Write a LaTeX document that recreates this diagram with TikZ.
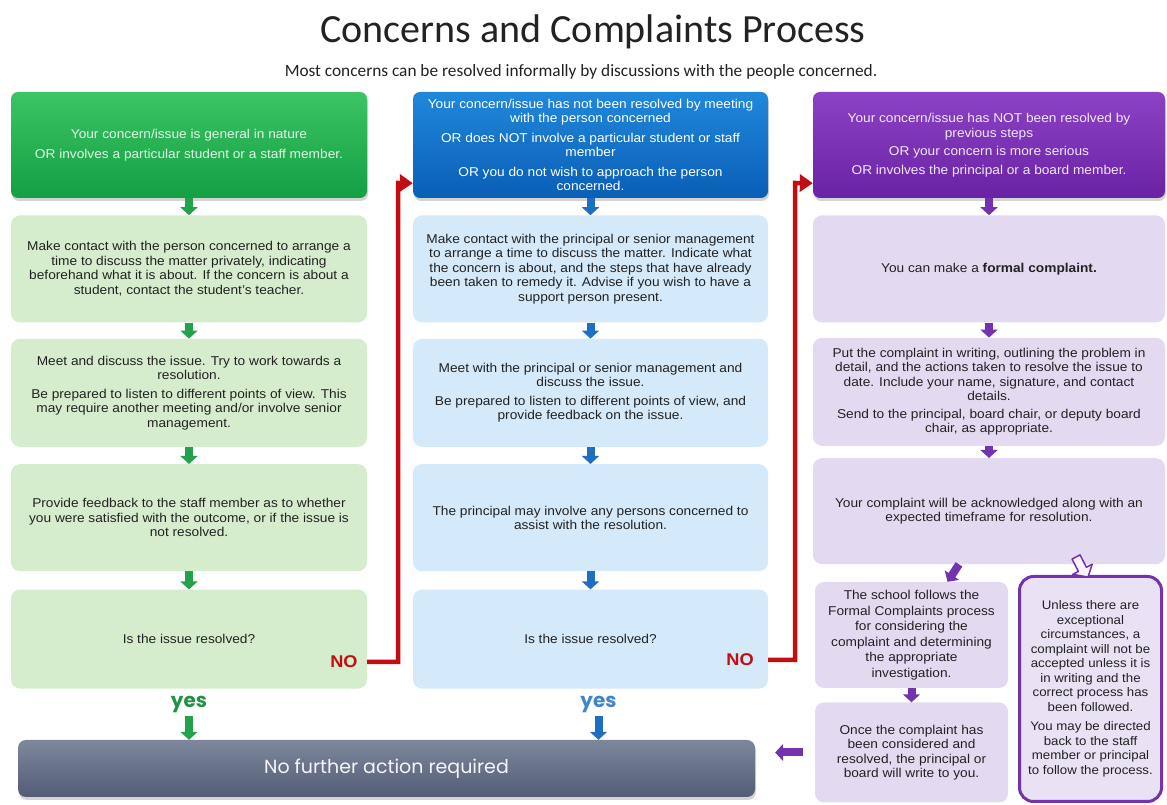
\documentclass[tikz,border=0pt]{standalone}
\usepackage{fontspec}
\setmainfont{Liberation Sans}[FakeStretch=1.07]
\newfontfamily\tittelfont{Carlito}
\newfontfamily\rundfont{Poppins}
\usepackage{tikz}
\usetikzlibrary{arrows.meta,positioning,shadows}
\definecolor{gronnA}{HTML}{3CC465}
\definecolor{gronnB}{HTML}{139F43}
\definecolor{gronnlys}{HTML}{D5EDCC}
\definecolor{gronnpil}{HTML}{23A24D}
\definecolor{blaA}{HTML}{2088DA}
\definecolor{blaB}{HTML}{0A5EB6}
\definecolor{blalys}{HTML}{D4E9F9}
\definecolor{blapil}{HTML}{1D6FC4}
\definecolor{lillaA}{HTML}{8C42C4}
\definecolor{lillaB}{HTML}{6A22A5}
\definecolor{lillalys}{HTML}{E3DAF1}
\definecolor{lillapil}{HTML}{7433AE}
\definecolor{graA}{HTML}{7D879C}
\definecolor{graB}{HTML}{525D76}
\definecolor{rod}{HTML}{C40D12}
\definecolor{tekst}{HTML}{222222}
\tikzset{
  %Define standard arrow tip
  >={Triangle[length=8pt,width=17pt]},
  %Define style for the header boxes
  hode/.style={
    rectangle,
    rounded corners=7pt,
    minimum height=106pt,
    align=center,
    font=\fontsize{12.8}{14.5}\selectfont,
    drop shadow={opacity=0.35,shadow xshift=1pt,shadow yshift=-3pt}},
  %Define style for the step boxes
  steg/.style={
    rectangle,
    rounded corners=9pt,
    align=center,
    text=tekst,
    font=\fontsize{12.8}{14.5}\selectfont},
  gsteg/.style={steg, fill=gronnlys, minimum width=356pt},
  bsteg/.style={steg, fill=blalys, minimum width=355pt},
  lsteg/.style={steg, fill=lillalys, minimum width=352pt},
  %Define style for the labels
  nei/.style={text=rod, font=\bfseries\fontsize{17}{17}\selectfont},
  ja/.style={inner sep=0pt, font=\rundfont\bfseries\fontsize{20}{20}\selectfont},
  % Define arrow styles
  nedpil/.style={
    ->,
    line width=8pt},
  neipil/.style={
    draw=rod,
    line width=4.5pt,
    -{Triangle[length=13pt,width=17pt]}}
}

\begin{document}
\begin{tikzpicture}[x=1pt,y=1pt]
  \useasboundingbox (0,0) rectangle (1167,805);
  \node[font=\tittelfont\fontsize{40}{44}\selectfont, text=tekst] (tittel) at (593,773) {Concerns and Complaints Process};
  \node[font=\tittelfont\fontsize{17.3}{19}\selectfont, text=tekst] (undertittel) at (581,733) {Most concerns can be resolved informally by discussions with the people concerned.};
  % first column
  \node[hode, minimum width=356pt, top color=gronnA, bottom color=gronnB, text=white!85!gronnA] (g1) at (189,660)
    {Your concern/issue is general in nature\\[6pt] OR involves a particular student or a staff member.};
  \node[gsteg, minimum height=107pt, below=17pt of g1] (g2)
    {Make contact with the person concerned to arrange a\\ time to discuss the matter privately, indicating\\ beforehand what it is about. If the concern is about a\\ student, contact the student's teacher.};
  \node[gsteg, minimum height=108pt, below=16pt of g2] (g3)
    {Meet and discuss the issue. Try to work towards a\\ resolution.\\[4pt] Be prepared to listen to different points of view. This\\ may require another meeting and/or involve senior\\ management.};
  \node[gsteg, minimum height=107pt, below=17pt of g3] (g4)
    {Provide feedback to the staff member as to whether\\ you were satisfied with the outcome, or if the issue is\\ not resolved.};
  \node[gsteg, minimum height=99pt, below=18pt of g4] (g5) {Is the issue resolved?};
  \node[nei] (nei1) at (344,143) {NO};
  \node[ja, text=gronnpil!90!black, below=7pt of g5] (ja1) {yes};
  % second column
  \node[hode, minimum width=355pt, top color=blaA, bottom color=blaB, text=white] (m1) at (590.5,660)
    {Your concern/issue has not been resolved by meeting\\ with the person concerned\\[5pt] OR does NOT involve a particular student or staff\\ member\\[5pt] OR you do not wish to approach the person\\ concerned.};
  \node[bsteg, minimum height=107pt, below=17pt of m1] (m2)
    {Make contact with the principal or senior management\\ to arrange a time to discuss the matter. Indicate what\\ the concern is about, and the steps that have already\\ been taken to remedy it. Advise if you wish to have a\\ support person present.};
  \node[bsteg, minimum height=108pt, below=16pt of m2] (m3)
    {Meet with the principal or senior management and\\ discuss the issue.\\[4pt] Be prepared to listen to different points of view, and\\ provide feedback on the issue.};
  \node[bsteg, minimum height=107pt, below=17pt of m3] (m4)
    {The principal may involve any persons concerned to\\ assist with the resolution.};
  \node[bsteg, minimum height=99pt, below=18pt of m4] (m5) {Is the issue resolved?};
  \node[nei] (nei2) at (740,145) {NO};
  \node[ja, text=blapil!85!white, below=7pt of m5, xshift=8pt] (ja2) {yes};
  % third column
  \node[hode, minimum width=352pt, top color=lillaA, bottom color=lillaB, text=white!88!lillaA] (p1) at (989,660)
    {Your concern/issue has NOT been resolved by\\ previous steps\\[4pt] OR your concern is more serious\\[4pt] OR involves the principal or a board member.};
  \node[lsteg, minimum height=107pt, below=17pt of p1] (p2) {You can make a \textbf{formal complaint.}};
  \node[lsteg, minimum height=108pt, below=15pt of p2] (p3)
    {Put the complaint in writing, outlining the problem in\\ detail, and the actions taken to resolve the issue to\\ date. Include your name, signature, and contact\\ details.\\[3pt] Send to the principal, board chair, or deputy board\\ chair, as appropriate.};
  \node[lsteg, minimum height=106pt, below=12pt of p3] (p4)
    {Your complaint will be acknowledged along with an\\ expected timeframe for resolution.};
  \node[steg, fill=lillalys, minimum width=193pt, minimum height=106pt, font=\fontsize{12.8}{15.5}\selectfont] (p5) at (911.5,170)
    {The school follows the\\ Formal Complaints process\\ for considering the\\ complaint and determining\\ the appropriate\\ investigation.};
  \node[steg, fill=lillalys, minimum width=193pt, minimum height=100pt] (p6) at (911.5,52.5)
    {Once the complaint has\\ been considered and\\ resolved, the principal or\\ board will write to you.};
  \node[steg, fill=lillalys!80!white, draw=lillapil, line width=3pt, rounded corners=14pt, minimum width=142pt, minimum height=225pt,
    font=\fontsize{12.4}{14.5}\selectfont] (u1) at (1090.5,116)
    {Unless there are\\ exceptional\\ circumstances, a\\ complaint will not be\\ accepted unless it is\\ in writing and the\\ correct process has\\ been followed.\\[5pt] You may be directed\\ back to the staff\\ member or principal\\ to follow the process.};
  % end box
  \node[rectangle, rounded corners=8pt, minimum width=737pt, minimum height=57pt, top color=graA, bottom color=graB,
    text=white!92!graA, font=\rundfont\fontsize{19}{21}\selectfont,
    drop shadow={opacity=0.35,shadow xshift=1pt,shadow yshift=-3pt}] (slutt) at (386.5,36.5) {No further action required};
  \path[nedpil, color=gronnpil]
    (g1) edge (g2)
    (g2) edge (g3)
    (g3) edge (g4)
    (g4) edge (g5)
    (ja1) edge[shorten <=3pt] (ja1 |- slutt.north);
  \path[nedpil, color=blapil]
    (m1) edge (m2)
    (m2) edge (m3)
    (m3) edge (m4)
    (m4) edge (m5)
    (ja2) edge[shorten <=3pt] (ja2 |- slutt.north);
  \path[nedpil, color=lillapil]
    (p1) edge (p2)
    (p2) edge (p3)
    (p3) edge (p4)
    ([xshift=-30pt]p4.south) edge ([xshift=36pt]p5.north)
    (p5) edge (p6)
    (p6.west) edge[shorten <=12pt, shorten >=20pt] (p6.west -| slutt.east);
  \coordinate (k1) at (398,622);
  \coordinate (k2) at (795,622);
  \draw[neipil] (g5.east |- nei1) -| (k1) -- ([yshift=15pt]m1.south west);
  \draw[neipil] (m5.east |- nei2) -| (k2) -- ([yshift=15pt]p1.south west);
  \draw[lillapil, fill=white!70!lillalys, line width=1.5pt, line join=round, shift={(u1.north)}]
    (-10.5,20.1) -- (-4.1,7.7) -- (1.7,10.8) -- (-2.5,-2) -- (-17.8,0.6) -- (-12.1,3.6) -- (-18.5,15.9) -- cycle;
\end{tikzpicture}
\end{document}
